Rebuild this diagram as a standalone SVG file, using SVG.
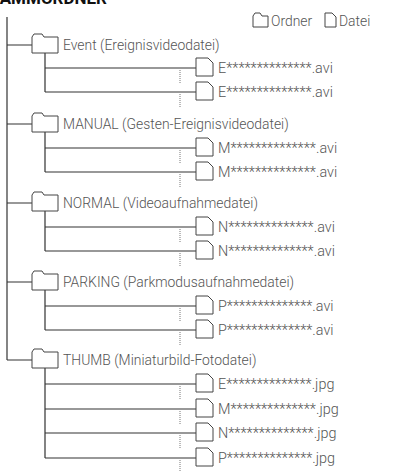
<svg xmlns="http://www.w3.org/2000/svg" width="398" height="471" viewBox="0 0 398 471">
<defs>
<style>
.t{font-family:Roboto,"Liberation Sans",sans-serif;font-weight:300;font-size:13.9px;fill:#555}
.f{font-family:Roboto,"Liberation Sans",sans-serif;font-weight:300;font-size:14.4px;fill:#555}
.ttl{font-family:Roboto,"Liberation Sans",sans-serif;font-weight:700;font-size:17px;fill:#111}
.ln{stroke:#333;stroke-width:1.2;fill:none}
.dt{stroke:#777;stroke-width:1;stroke-dasharray:1 1;fill:none}
.ic{stroke:#444;stroke-width:1;fill:#fff}
</style>
<path id="fold" class="ic" d="M0,8V-8L2,-11H10L12,-8H26V8Z"/>
<path id="file" class="ic" d="M0,-10H12L17,-5V8H0Z"/>
</defs>
<rect width="398" height="471" fill="#fff"/>
<text class="ttl" x="107" y="4" text-anchor="end">STAMMORDNER</text>
<g id="legend">
<path class="ic" d="M253,27V16L255,13H260L262,16H268V27Z"/>
<text class="t" x="271" y="26">Ordner</text>
<path class="ic" d="M325,13H332L336,17V27H325Z"/>
<text class="t" x="339" y="26">Datei</text>
</g>
<g id="connectors">
<path class="ln" d="M7,17V360"/>
<path class="ln" d="M7,45H32M7,124H32M7,203H32M7,282H32M7,360H32"/>
<path class="ln" d="M45,53V92M45,68H196M45,92H196"/>
<path class="ln" d="M45,132V172M45,148H196M45,172H196"/>
<path class="ln" d="M45,211V251M45,227H196M45,251H196"/>
<path class="ln" d="M45,290V330M45,306H196M45,330H196"/>
<path class="ln" d="M45,368V458M45,384H196M45,409H196M45,433H196M45,458H196"/>
<path class="dt" d="M180,70V84M180,94V108M180,150V164M180,174V188M180,229V243M180,253V267M180,308V322M180,332V346M180,386V400M180,411V425M180,435V449M180,460V471"/>
</g>
<g id="event"><use href="#fold" x="32" y="45"/><text class="t" x="63" y="50">Event (Ereignisvideodatei)</text></g>
<g id="e1"><use href="#file" x="196" y="68"/><text class="f" x="218" y="73">E**************.avi</text></g>
<g id="e2"><use href="#file" x="196" y="92"/><text class="f" x="218" y="97">E**************.avi</text></g>
<g id="manual"><use href="#fold" x="32" y="124"/><text class="t" x="63" y="129">MANUAL (Gesten-Ereignisvideodatei)</text></g>
<g id="m1"><use href="#file" x="196" y="148"/><text class="f" x="218" y="153">M**************.avi</text></g>
<g id="m2"><use href="#file" x="196" y="172"/><text class="f" x="218" y="177">M**************.avi</text></g>
<g id="normal"><use href="#fold" x="32" y="203"/><text class="t" x="63" y="208">NORMAL (Videoaufnahmedatei)</text></g>
<g id="n1"><use href="#file" x="196" y="227"/><text class="f" x="218" y="232">N**************.avi</text></g>
<g id="n2"><use href="#file" x="196" y="251"/><text class="f" x="218" y="256">N**************.avi</text></g>
<g id="parking"><use href="#fold" x="32" y="282"/><text class="t" x="63" y="287">PARKING (Parkmodusaufnahmedatei)</text></g>
<g id="p1"><use href="#file" x="196" y="306"/><text class="f" x="218" y="311">P**************.avi</text></g>
<g id="p2"><use href="#file" x="196" y="330"/><text class="f" x="218" y="335">P**************.avi</text></g>
<g id="thumb"><use href="#fold" x="32" y="360"/><text class="t" x="63" y="365">THUMB (Miniaturbild-Fotodatei)</text></g>
<g id="t1"><use href="#file" x="196" y="384"/><text class="f" x="218" y="389">E**************.jpg</text></g>
<g id="t2"><use href="#file" x="196" y="409"/><text class="f" x="218" y="414">M**************.jpg</text></g>
<g id="t3"><use href="#file" x="196" y="433"/><text class="f" x="218" y="438">N**************.jpg</text></g>
<g id="t4"><use href="#file" x="196" y="458"/><text class="f" x="218" y="463">P**************.jpg</text></g>
</svg>
